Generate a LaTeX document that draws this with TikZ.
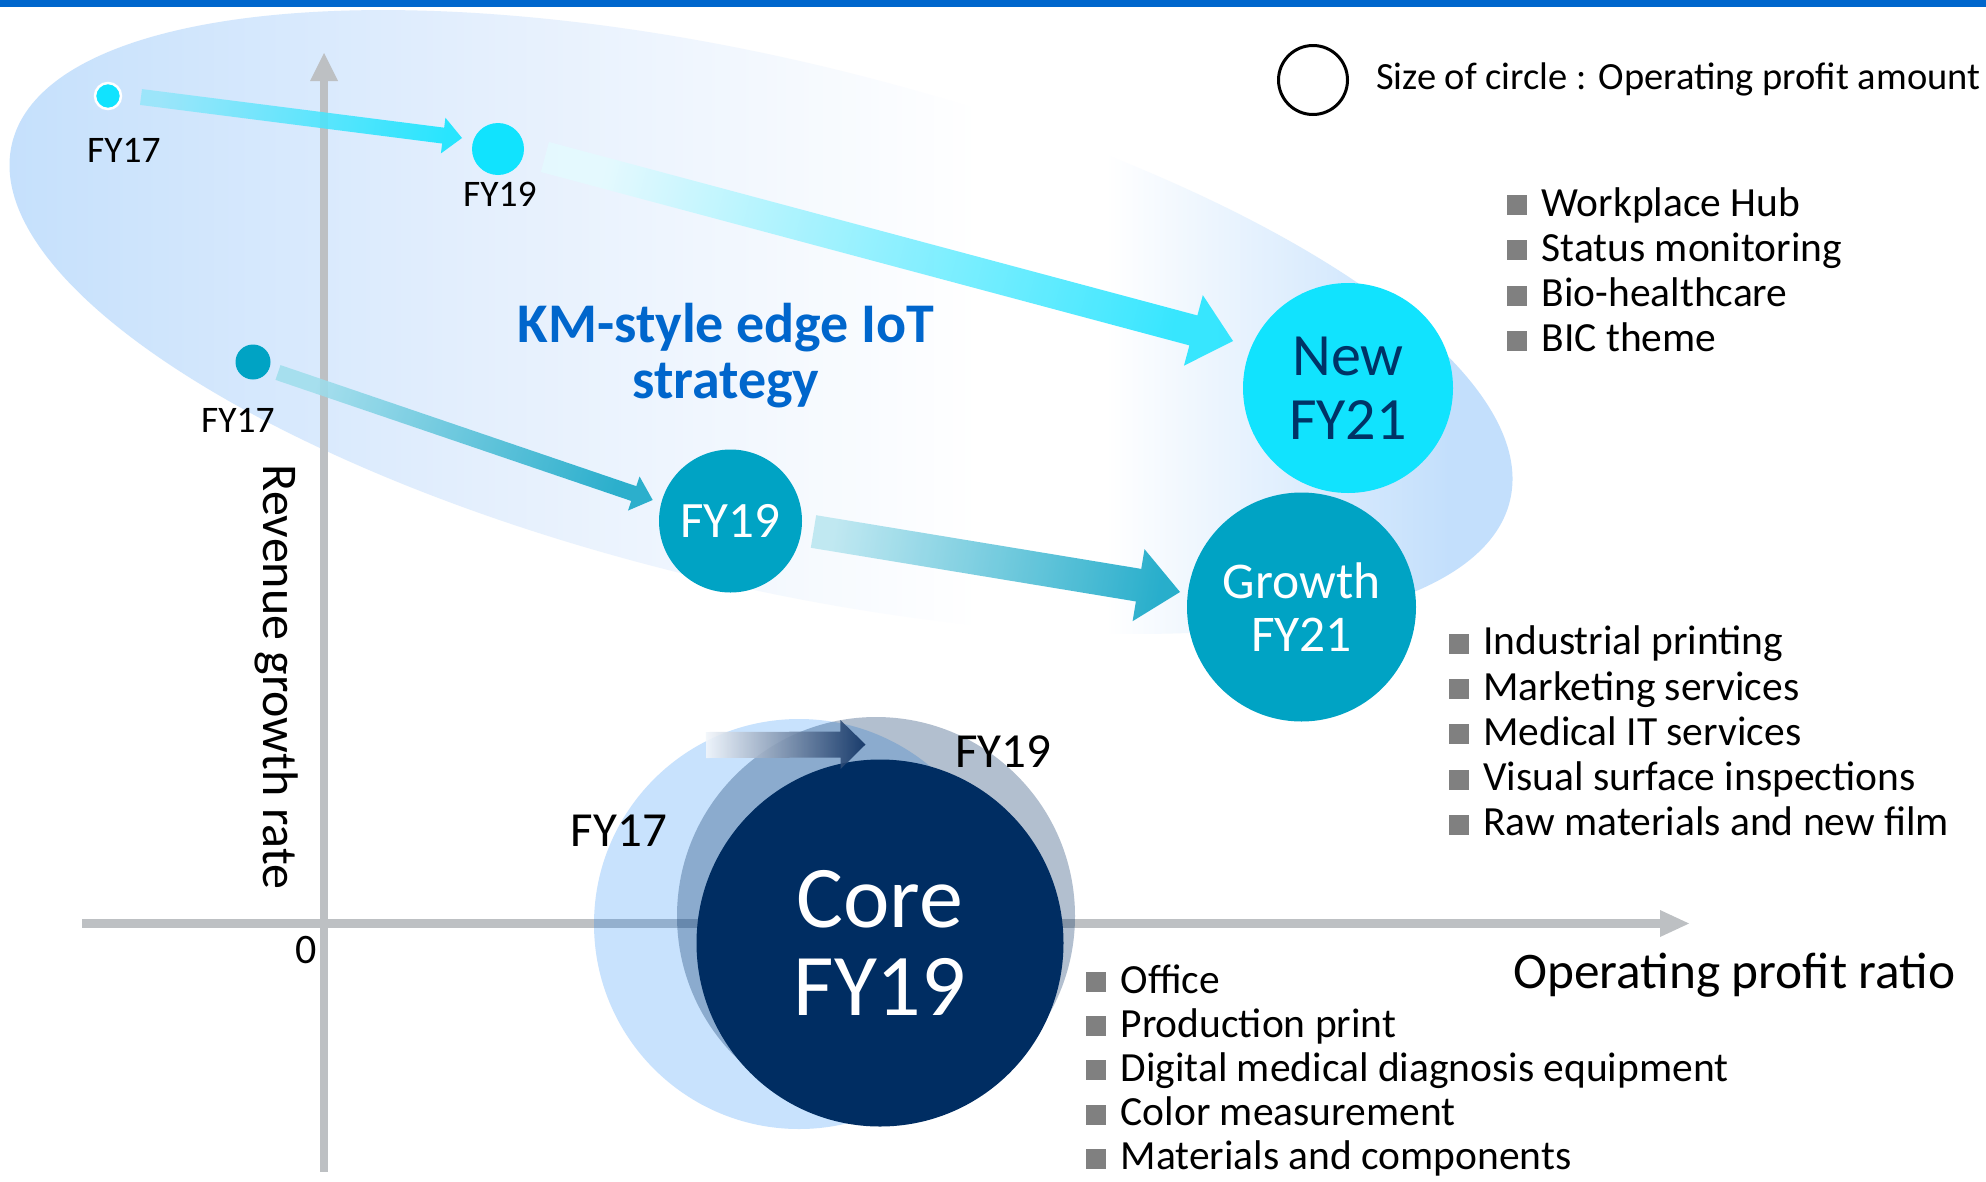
\documentclass[tikz,border=0pt]{standalone}
\usepackage{fontspec}
\setmainfont{Carlito}
\usetikzlibrary{calc}
\definecolor{topblue}{RGB}{0,102,204}
\definecolor{ellblue}{RGB}{195,223,252}
\definecolor{ellmid}{RGB}{228,239,253}
\definecolor{axisgray}{RGB}{189,192,195}
\definecolor{cyanA}{RGB}{17,227,254}
\definecolor{tealA}{RGB}{0,163,196}
\definecolor{navyA}{RGB}{0,45,98}
\definecolor{coreblue}{RGB}{5,123,246}
\definecolor{newtext}{RGB}{0,51,102}
\definecolor{kmblue}{RGB}{0,102,204}
\definecolor{sqgray}{RGB}{128,128,128}
\definecolor{aoneL}{RGB}{150,230,250}
\definecolor{aoneR}{RGB}{16,228,255}
\definecolor{atwoL}{RGB}{228,250,255}
\definecolor{atwoR}{RGB}{30,228,255}
\definecolor{athrL}{RGB}{160,222,236}
\definecolor{athrR}{RGB}{18,166,198}
\definecolor{afouL}{RGB}{185,230,240}
\definecolor{afouR}{RGB}{12,164,197}
\definecolor{afivL}{RGB}{242,246,251}
\definecolor{afivR}{RGB}{10,45,95}
\pgfdeclarehorizontalshading{ellshade}{100bp}{color(0bp)=(ellblue); color(25bp)=(ellblue); color(41bp)=(ellmid); color(57bp)=(white); color(61bp)=(white); color(72bp)=(ellblue); color(100bp)=(ellblue)}
\newcommand\fs[1]{\fontsize{#1}{#1}\selectfont}
\newcommand\fsl[2]{\fontsize{#1}{#2}\selectfont}
\newcommand\bsq{{\color{sqgray}\rule[1pt]{20pt}{20pt}}\hspace{14.5pt}}
% #1 start, #2 tip, #3 shaft half width, #4 head half width, #5 head length, #6 left colour, #7 right colour, #8 shading angle
\newcommand\fatarrow[8]{%
  \coordinate (#1-h) at ($(#2)!#5!(#1)$);
  \shade[left color=#6,right color=#7,shading angle=#8,opacity=0.88]
    ($(#1)!#3!90:(#2)$) -- ($(#1-h)!#3!90:(#2)$) -- ($(#1-h)!#4!90:(#2)$) -- (#2)
    -- ($(#1-h)!#4!-90:(#2)$) -- ($(#1-h)!#3!-90:(#2)$) -- ($(#1)!#3!-90:(#2)$) -- cycle;
}
\tikzset{
  dot/.style={circle, inner sep=0pt, outer sep=0pt, align=center},
  lbl/.style={font=\fs{37.5}, anchor=base, inner sep=0pt},
  bigl/.style={font=\fs{49}, anchor=base, inner sep=0pt},
  item/.style={font=\fs{41.5}, anchor=base west, inner sep=0pt},
}
\begin{document}
\begin{tikzpicture}[x=1pt,y=-1pt]
\useasboundingbox (0,0) rectangle (1986,1181);
\fill[white] (0,0) rectangle (1986,1181);
\fill[topblue] (0,0) rectangle (1986,7);

% big strategy ellipse
\shade[shading=ellshade, rotate around={-13.4:(761,322)}] (761,322) ellipse [x radius=770pt, y radius=263pt];

% axes
\fill[axisgray] (319.75,1172) rectangle (328.25,80);
\fill[axisgray] (310,81) -- (338,81) -- (324,53) -- cycle;
\fill[axisgray] (82,919.25) rectangle (1661,927.75);
\fill[axisgray] (1660,910) -- (1660,937) -- (1689,923.5) -- cycle;

% circles of the IoT strategy
\node[dot, fill=cyanA, draw=white, line width=2.5pt, minimum size=26pt] (a17) at (108,96) {};
\node[dot, fill=cyanA, minimum size=52pt] (a19) at (498,149) {};
\node[dot, fill=tealA, minimum size=35pt] (b17) at (253,362) {};

% thick arrows
\coordinate (a1s) at (141,97);   \coordinate (a1e) at (462,138);
\coordinate (a2s) at (545,157);  \coordinate (a2e) at (1233,341);
\coordinate (a3s) at (278,372.5); \coordinate (a3e) at (652.7,500);
\coordinate (a4s) at (813.5,531.5); \coordinate (a4e) at (1180,592);
\fatarrow{a1s}{a1e}{8pt}{18pt}{19pt}{aoneL}{aoneR}{82.7}
\fatarrow{a2s}{a2e}{15.5pt}{36.5pt}{41pt}{atwoL}{atwoR}{75}
\fatarrow{a3s}{a3e}{7.8pt}{18pt}{20pt}{athrL}{athrR}{71.2}
\fatarrow{a4s}{a4e}{16.5pt}{36.5pt}{42pt}{afouL}{afouR}{80.6}

\node[dot, fill=tealA, minimum size=143pt, text=white, font=\fs{51}] (b19) at (730.5,521) {FY19};
\node[dot, fill=cyanA, minimum size=210pt, text=newtext, font=\fsl{60}{64}] (new21) at (1348,388) {New\\FY21};
\node[dot, fill=tealA, minimum size=229pt, text=white, font=\fsl{51.5}{53.5}] (grow21) at (1301.5,607) {Growth\\FY21};

% core circles
\node[dot, fill=coreblue, fill opacity=0.22, minimum size=410pt] (core17) at (799,924) {};
\node[dot, fill=navyA, fill opacity=0.30, minimum size=398pt] (core19o) at (876,916) {};
\node[dot, fill=navyA, minimum size=367pt, text=white, font=\fsl{88}{88}] (core) at (880,943) {Core\\FY19};
\coordinate (a5s) at (706,745); \coordinate (a5e) at (865.5,744.5);
\fatarrow{a5s}{a5e}{13pt}{24.5pt}{25pt}{afivL}{afivR}{90}

% labels
\node[lbl] (l17a) at (124,162) {FY17};
\node[lbl] (l19a) at (500,206) {FY19};
\node[lbl] (l17b) at (238,432.5) {FY17};
\node[bigl] (l17c) at (619,846) {FY17};
\node[bigl] (l19c) at (1003.5,767) {FY19};
\node[font=\fsl{56}{56}\bfseries, text=kmblue, align=center] (km) at (726,356) {KM-style edge IoT\\strategy};

% axis labels
\node[font=\fs{42}, anchor=base, inner sep=0pt] (zero) at (306,963) {0};
\node[font=\fs{50}, rotate=-90, inner sep=0pt] (ylab) at (276.5,677) {Revenue growth rate};
\node[font=\fs{51.3}, anchor=base west, inner sep=0pt] (xlab) at (1513,988) {Operating profit ratio};

% legend
\node[dot, draw=black, line width=3pt, minimum size=69pt] (leg) at (1313,80) {};
\node[font=\fs{38.5}, anchor=base west, inner sep=0pt] (legt) at (1376,89) {Size of circle : Operating profit amount};

% lists
\foreach \t [count=\i] in {Workplace Hub, Status monitoring, Bio-healthcare, BIC theme}
  \node[item] (na\i) at (1507,{216+45.3*(\i-1)}) {\bsq\t};
\foreach \t [count=\i] in {Industrial printing, Marketing services, Medical IT services, Visual surface inspections, Raw materials and new film}
  \node[item] (nb\i) at (1448.6,{654.7+45.3*(\i-1)}) {\bsq\t};
\foreach \t [count=\i] in {Office, Production print, Digital medical diagnosis equipment, Color measurement, Materials and components}
  \node[item] (nc\i) at (1086,{993+44.2*(\i-1)}) {\bsq\t};
\end{tikzpicture}
\end{document}
